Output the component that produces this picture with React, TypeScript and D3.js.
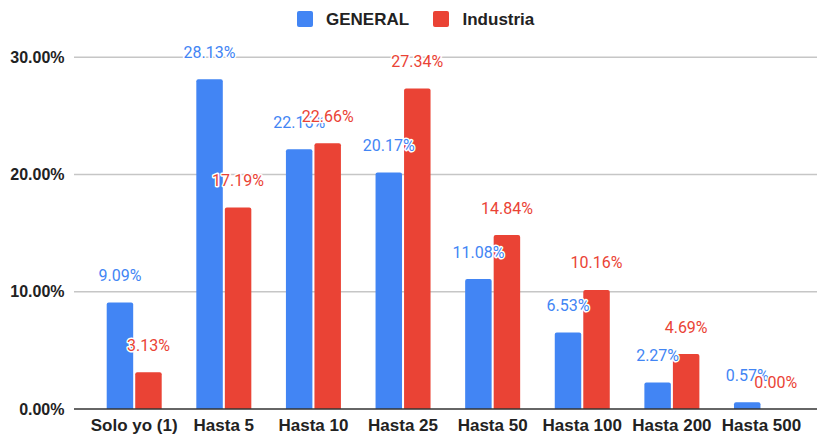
import React from "react";
import * as d3 from "d3";

const categories = ["Solo yo (1)", "Hasta 5", "Hasta 10", "Hasta 25", "Hasta 50", "Hasta 100", "Hasta 200", "Hasta 500"];
const seriesNames = ["GENERAL", "Industria"];
const generalValues = [9.09, 28.13, 22.16, 20.17, 11.08, 6.53, 2.27, 0.57];
const industriaValues = [3.13, 17.19, 22.66, 27.34, 14.84, 10.16, 4.69, 0.0];
const yTicks = [0, 10, 20, 30];
const colors = ["#4285F4", "#EA4335"];

const W = 817;
const H = 436;

export default function App() {
  const series = [generalValues, industriaValues];
  const x = d3.scaleBand<string>().domain(categories).range([89.4, 806.3]).paddingInner(0).paddingOuter(0);
  const step = x.bandwidth();
  const inner = d3
    .scaleBand<string>()
    .domain(seriesNames)
    .range([step / 2 - 27.5, step / 2 + 27.5])
    .paddingInner(2 / 28);
  const y = d3.scaleLinear().domain([0, 30]).range([409, 57.3]);
  const labelFont = "Roboto, 'Liberation Sans', Arial, sans-serif";
  const axisFont = "'Liberation Sans', Arial, sans-serif";

  return (
    <svg
      width={W}
      height={H}
      style={{ position: "fixed", left: 0, top: 0, background: "#fff" }}
      fontFamily={axisFont}
    >
      <rect x={0} y={0} width={W} height={H} fill="#fff" />
      {/* legend */}
      <g>
        <rect x={297} y={11} width={16} height={16} rx={2} fill={colors[0]} />
        <text x={326} y={25} fontSize={17} fontWeight="bold" fill="#222">{seriesNames[0]}</text>
        <rect x={433} y={11} width={16} height={16} rx={2} fill={colors[1]} />
        <text x={462.5} y={25} fontSize={17} fontWeight="bold" fill="#222">{seriesNames[1]}</text>
      </g>
      {/* gridlines */}
      {yTicks.map((t) => (
        <g key={t}>
          {t !== 0 && (
            <line x1={74} x2={817} y1={y(t)} y2={y(t)} stroke="#c6c6c6" strokeWidth={1.5} />
          )}
          <text
            x={64.5}
            y={y(t)}
            dy="0.35em"
            textAnchor="end"
            fontSize={16}
            fontWeight="bold"
            fill="#222"
          >
            {d3.format(".2f")(t) + "%"}
          </text>
        </g>
      ))}
      {/* bars */}
      {categories.map((c, i) => (
        <g key={c} transform={`translate(${x(c)},0)`}>
          {series.map((vals, s) => {
            const v = vals[i];
            const bx = inner(seriesNames[s]) as number;
            const bw = inner.bandwidth();
            const top = y(v);
            const h = y(0) - top;
            return h > 0 ? (
              <path
                key={s}
                d={`M${bx},${y(0)} V${top + 2} Q${bx},${top} ${bx + 2},${top} H${bx + bw - 2} Q${bx + bw},${top} ${bx + bw},${top + 2} V${y(0)} Z`}
                fill={colors[s]}
              />
            ) : null;
          })}
          <text x={step / 2} y={431} textAnchor="middle" fontSize={17} fontWeight="bold" fill="#222">
            {c}
          </text>
        </g>
      ))}
      {/* baseline */}
      <line x1={74} x2={817} y1={y(0)} y2={y(0)} stroke="#333" strokeWidth={1.5} />
      {/* data labels */}
      {categories.map((c, i) => (
        <g key={c + "-lbl"} transform={`translate(${x(c)},0)`}>
          {series.map((vals, s) => {
            const v = vals[i];
            const bx = (inner(seriesNames[s]) as number) + inner.bandwidth() / 2;
            return (
              <text
                key={s}
                x={bx}
                y={y(v) - 27}
                dy="0.35em"
                textAnchor="middle"
                fontSize={16}
                fontFamily={labelFont}
                fill={colors[s]}
                stroke="#fff"
                strokeWidth={3}
                strokeLinejoin="round"
                paintOrder="stroke"
              >
                {d3.format(".2f")(v) + "%"}
              </text>
            );
          })}
        </g>
      ))}
    </svg>
  );
}
